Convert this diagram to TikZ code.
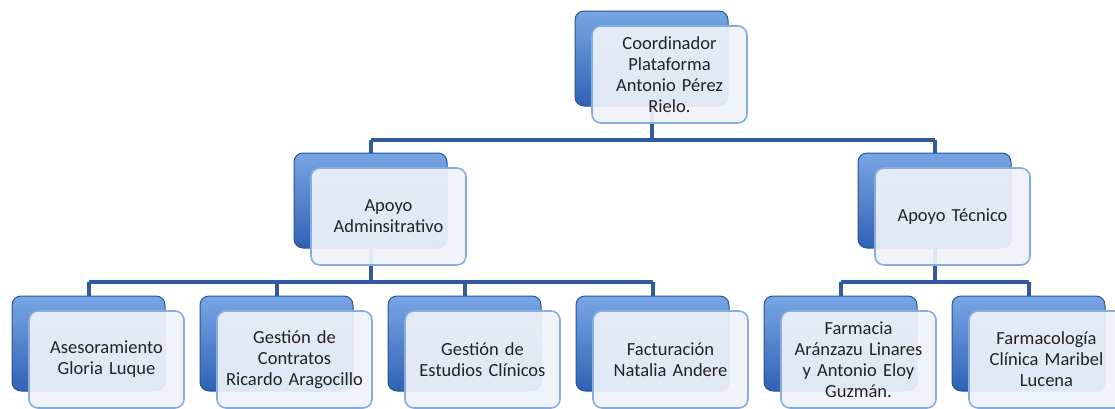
\documentclass[tikz,border=0pt]{standalone}
\usepackage{fontspec}
\setmainfont[WordSpace=0.6]{Carlito}
\usetikzlibrary{positioning,backgrounds}

\definecolor{linkblue}{RGB}{48,92,158}
\definecolor{backtop}{RGB}{120,166,228}
\definecolor{backbot}{RGB}{48,98,180}
\definecolor{backedge}{RGB}{42,84,156}
\definecolor{frontfill}{RGB}{239,243,250}
\definecolor{frontedge}{RGB}{136,172,220}
\definecolor{textgray}{RGB}{35,35,35}

\begin{document}
\begin{tikzpicture}[x=1pt, y=-1pt,
  back/.style={draw=backedge, line width=1pt, rounded corners=9pt,
    top color=backtop, bottom color=backbot,
    minimum width=153pt, minimum height=95pt, inner sep=0pt},
  front/.style={draw=frontedge, line width=1.6pt, rounded corners=9pt,
    fill=frontfill, fill opacity=0.92, text opacity=1,
    minimum width=155pt, minimum height=97pt, inner sep=0pt,
    text width=152pt, align=center, text=textgray,
    font=\fontsize{18.5}{21}\selectfont, xshift=18pt, yshift=-16pt},
  link/.style={draw=linkblue, line width=4pt}]
  \useasboundingbox (0,0) rectangle (1115,408);

  % top
  \node[back] (coordB) at (651.5,58.5) {};
  \node[front] (coord) at (coordB) {Coordinador\\Plataforma\\Antonio Pérez\\Rielo.};

  % second level
  \node[back] (adminB) at (370.5,200.5) {};
  \node[front] (admin) at (adminB) {Apoyo\\Adminsitrativo};
  \node[back] (tecB) at (934.5,200.5) {};
  \node[front] (tec) at (tecB) {Apoyo Técnico};

  % third level
  \node[back] (asesB) at (88.5,343.5) {};
  \node[front] (ases) at (asesB) {Asesoramiento\\Gloria Luque};
  \node[back] (contB) at (276.5,343.5) {};
  \node[front] (cont) at (contB) {Gestión de\\Contratos\\Ricardo Aragocillo};
  \node[back] (estB) at (464.5,343.5) {};
  \node[front] (est) at (estB) {Gestión de\\Estudios Clínicos};
  \node[back] (factB) at (652.5,343.5) {};
  \node[front] (fact) at (factB) {Facturación\\Natalia Andere};
  \node[back] (farmB) at (840.5,343.5) {};
  \node[front] (farm) at (farmB) {Farmacia\\Aránzazu Linares\\y Antonio Eloy\\Guzmán.};
  \node[back] (pharB) at (1028.5,343.5) {};
  \node[front] (phar) at (pharB) {Farmacología\\Clínica Maribel\\Lucena};

  % connectors
  \begin{pgfonlayer}{background}
    \coordinate (bar1) at (0,140);
    \coordinate (bar2) at (0,282);
    \draw[link](coordB) -- (coordB |- bar1);
    \draw[link](adminB |- bar1) -- (tecB |- bar1);
    \draw[link](adminB |- bar1) -- (adminB);
    \draw[link](tecB |- bar1) -- (tecB);
    \draw[link](adminB) -- (adminB |- bar2);
    \draw[link](asesB |- bar2) -- (factB |- bar2);
    \foreach \n in {asesB,contB,estB,factB}
      \draw[link](\n |- bar2) -- (\n);
    \draw[link](tecB) -- (tecB |- bar2);
    \draw[link](farmB |- bar2) -- (pharB |- bar2);
    \foreach \n in {farmB,pharB}
      \draw[link](\n |- bar2) -- (\n);
  \end{pgfonlayer}
\end{tikzpicture}
\end{document}
